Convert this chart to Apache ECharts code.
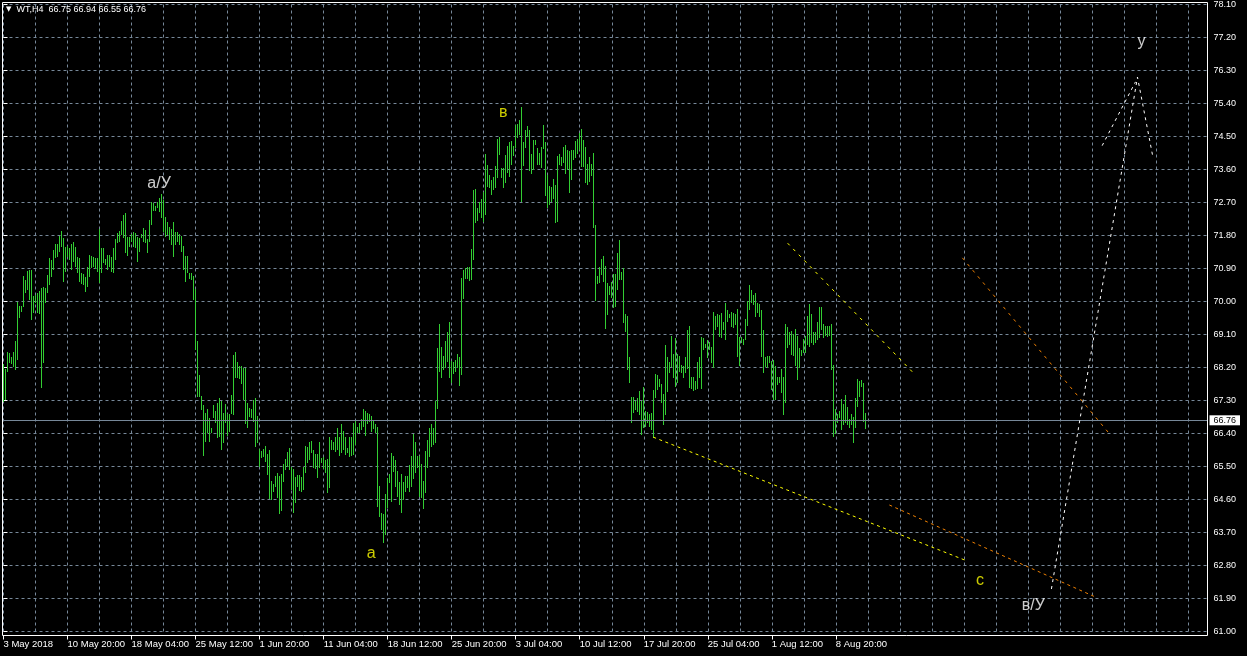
<!DOCTYPE html>
<html><head><meta charset="utf-8">
<script src="https://cdn.jsdelivr.net/npm/echarts@6/dist/echarts.min.js"></script>
<style>html,body{margin:0;padding:0;background:#000;}#c{width:1247px;height:656px;}</style>
</head><body><div id="c"></div>
<script>
const symbolName = 'WT,H4';
const lastBar = {open: 66.75, high: 66.94, low: 66.55, close: 66.76};
const timeLabels = ['3 May 2018','10 May 20:00','18 May 04:00','25 May 12:00','1 Jun 20:00','11 Jun 04:00','18 Jun 12:00','25 Jun 20:00','3 Jul 04:00','10 Jul 12:00','17 Jul 20:00','25 Jul 04:00','1 Aug 12:00','8 Aug 20:00'];
const barsPerLabel = 32;
const priceMin = 61.0, priceMax = 78.1, priceStep = 0.9;

const highs = [
68.27,68.14,68.60,68.57,68.46,68.60,68.90,69.97,69.86,69.86,
70.67,70.57,70.81,70.84,70.84,70.13,70.16,70.21,70.27,70.35,
70.38,70.35,70.70,71.17,71.11,71.38,71.55,71.55,71.76,71.90,
71.71,71.46,71.49,71.44,71.55,71.60,71.46,71.19,71.17,70.76,
70.73,70.65,70.92,71.25,71.22,71.19,71.17,71.17,71.96,71.44,
71.44,71.14,71.25,71.25,71.19,71.44,71.68,71.85,71.90,72.17,
72.34,72.39,71.74,71.74,71.82,71.87,71.85,71.74,71.71,71.82,
71.98,71.93,71.68,72.20,72.69,72.66,72.58,72.69,72.80,72.91,
72.75,72.28,72.15,72.01,71.96,72.15,71.87,71.87,71.82,71.76,
71.49,71.22,71.22,70.76,70.76,70.67,70.32,68.90,67.97,67.40,
67.16,66.94,67.05,66.80,66.53,67.16,66.99,67.21,67.35,67.27,
66.94,67.18,66.91,66.91,67.43,68.52,68.60,68.33,68.22,68.22,
68.17,68.17,67.21,67.07,67.05,67.29,67.35,66.86,65.96,65.90,
65.96,66.04,65.82,65.93,65.08,65.00,65.22,65.30,65.22,65.28,
65.55,65.68,65.87,65.98,65.47,65.41,65.19,65.25,65.25,65.19,
65.47,66.04,66.01,66.15,66.17,65.93,65.82,65.82,66.15,65.71,
65.74,65.66,65.68,66.28,66.20,66.15,66.28,66.53,66.28,66.64,
66.45,66.28,65.98,66.28,66.28,66.67,66.75,66.56,66.67,66.78,
67.05,66.99,66.94,66.91,66.86,66.75,66.64,66.56,64.95,64.21,
64.18,64.73,65.17,65.28,65.85,65.76,65.66,65.36,65.06,65.28,
65.06,65.22,65.22,65.52,65.76,66.37,66.15,65.76,65.76,65.55,
65.08,65.90,66.20,66.53,66.64,66.53,67.27,68.71,69.37,68.74,
68.49,68.90,69.15,69.42,68.36,68.33,68.38,68.55,68.46,70.62,
70.84,70.89,70.92,70.92,71.41,73.02,73.05,72.53,72.69,72.77,
72.97,74.00,73.70,73.43,73.29,73.37,73.67,74.41,74.46,73.62,
73.62,73.97,74.22,74.33,74.36,74.22,74.79,74.82,74.93,75.28,
74.33,74.66,74.76,74.66,74.00,74.38,74.38,74.16,74.03,74.19,
74.79,74.33,73.43,73.13,73.10,73.32,73.16,73.95,74.00,73.92,
74.19,74.25,74.11,74.08,74.11,74.11,74.36,74.41,74.57,74.68,
74.38,74.19,73.73,73.92,73.73,74.03,72.07,70.67,70.92,71.14,
71.22,70.95,70.48,70.40,70.51,70.73,70.73,71.30,71.66,70.78,
70.89,69.64,69.58,68.46,67.37,67.37,67.27,67.35,67.54,67.27,
67.65,66.99,66.97,66.91,66.94,67.57,68.00,67.97,67.86,67.73,
67.46,68.79,68.46,68.33,69.04,68.55,68.98,68.55,68.49,68.25,
68.22,68.46,69.20,69.31,67.94,67.92,67.81,68.33,68.46,69.01,
68.98,68.82,68.93,68.87,68.74,69.69,69.58,69.64,69.61,69.66,
69.42,69.94,69.75,69.64,69.69,69.66,69.64,69.77,69.01,69.01,
68.96,69.50,69.99,70.43,70.29,70.16,70.21,69.94,69.91,69.75,
69.20,68.46,68.49,68.49,68.36,68.38,68.22,67.94,67.94,68.14,
67.94,69.37,69.28,69.15,69.17,69.09,69.23,69.04,68.71,68.66,
68.96,69.04,69.58,69.91,69.64,69.15,69.15,69.42,69.83,69.83,
69.37,69.31,69.31,69.31,69.37,68.25,67.05,66.91,66.99,67.32,
67.18,67.43,67.10,66.78,66.91,66.83,67.35,67.86,67.81,67.84,
67.76,66.94
];
const lows = [
67.27,67.32,68.08,68.33,68.30,68.22,68.14,68.41,69.56,69.72,
69.86,70.24,70.32,70.05,69.50,69.69,69.97,69.69,69.67,67.65,
68.33,69.97,70.24,70.46,70.67,70.86,71.19,71.22,71.36,71.49,
70.54,70.81,71.22,71.14,70.86,71.08,70.95,70.78,70.54,70.48,
70.46,70.27,70.40,70.67,70.92,70.95,70.89,70.81,70.51,70.78,
71.06,71.00,70.86,70.95,70.81,70.78,71.14,71.60,71.63,71.82,
71.74,71.33,71.25,71.49,71.63,71.49,71.46,71.08,71.36,71.74,
71.63,71.60,71.33,71.63,72.09,72.47,72.47,72.56,72.45,72.28,
71.90,71.76,71.82,71.68,71.55,71.22,71.55,71.63,71.55,71.36,
70.86,70.54,70.78,70.62,70.59,70.05,68.70,67.40,67.40,67.05,
65.79,66.17,66.42,66.17,66.42,66.83,66.69,66.28,66.31,65.96,
66.15,66.69,66.34,66.45,66.94,66.91,67.92,67.94,67.89,67.76,
67.32,66.67,66.56,66.86,66.83,66.72,66.04,66.15,65.49,65.74,
65.76,65.63,65.28,64.62,64.59,64.81,64.95,64.65,64.21,64.29,
65.08,65.41,65.49,65.41,64.87,64.24,64.51,64.95,64.84,64.81,
64.87,65.33,65.60,65.68,65.87,65.47,65.44,65.19,65.47,65.60,
65.44,65.33,64.78,64.92,65.96,65.96,65.90,65.96,65.79,65.87,
65.96,65.82,65.87,65.76,65.79,65.82,66.09,66.42,66.42,66.50,
66.58,66.34,66.67,66.72,66.45,66.53,66.42,64.40,64.13,63.78,
63.42,63.64,64.37,65.06,64.54,65.36,64.95,64.68,64.46,64.24,
64.59,64.81,64.92,64.81,64.95,65.17,65.33,65.47,64.68,64.65,
64.35,64.78,65.47,65.76,66.04,66.09,66.15,67.07,68.08,67.94,
68.14,68.19,68.36,67.94,67.78,68.03,68.08,68.19,67.70,68.00,
70.07,70.62,70.62,70.57,70.59,71.14,72.15,72.20,72.42,72.28,
72.17,72.36,73.13,73.10,72.91,73.05,73.10,73.37,74.00,73.37,
73.10,73.24,73.51,73.40,73.73,73.97,74.19,74.46,74.55,72.72,
73.70,74.19,74.49,73.56,73.48,73.59,74.27,73.73,73.73,73.65,
74.16,72.88,72.56,72.64,72.72,72.80,72.15,72.17,73.73,73.70,
73.78,73.48,73.59,72.97,73.32,73.86,73.92,74.05,74.14,73.67,
73.67,73.24,73.18,73.26,73.43,72.01,70.02,70.48,70.51,70.73,
70.54,69.26,69.64,70.18,70.10,69.83,69.86,70.32,70.59,70.59,
69.42,69.17,68.14,67.78,66.69,66.97,67.05,66.99,66.91,66.37,
66.56,66.58,66.69,66.58,66.50,66.28,67.37,67.59,67.67,67.24,
66.64,66.91,67.54,68.06,68.22,67.94,67.67,67.78,68.08,68.06,
67.94,68.06,68.17,67.65,67.62,67.57,67.59,67.62,67.94,67.62,
68.68,68.74,68.46,68.68,68.33,68.19,69.23,69.31,69.04,69.01,
69.23,68.96,69.45,69.56,69.31,69.28,69.37,68.49,68.25,68.87,
68.82,68.96,69.34,69.77,69.97,69.91,69.58,69.69,69.58,68.49,
68.06,68.22,68.19,68.33,67.59,67.32,67.32,67.73,67.78,67.51,
66.91,67.24,68.74,68.82,68.55,68.52,68.25,67.86,68.19,68.52,
68.60,68.60,68.82,68.77,68.87,68.82,68.87,68.96,69.01,69.23,
69.01,69.07,69.04,69.07,68.14,66.31,66.39,66.69,66.83,66.50,
66.64,66.69,66.64,66.56,66.64,66.15,66.56,67.13,67.40,67.67,
66.72,66.55
];

// hand-drawn analysis lines: [bar index, price]
const yellowUpper = [[391.9, 71.59], [454.25, 68.08]];
const yellowLower = [[324.75, 66.30], [481.75, 62.92]];
const orangeUpper = [[479.25, 71.19], [553.25, 66.36]];
const orangeLower = [[442.75, 64.45], [545.75, 61.94]];
const whitePath = [[523.75, 62.16], [566.75, 76.12], [574.25, 74.00]];
const whiteShort = [[549.1, 74.25], [565.75, 75.99]];

const waveNames = ['a/У', 'в', 'a', 'с', 'в/У', 'у'];
const wavePos = [[77.75, 73.22], [249.75, 75.16], [183.75, 63.13], [488, 62.40], [514.75, 61.70], [568.75, 77.10]];
const waveColors = ['#ffffff', '#ffff00', '#ffff00', '#ffff00', '#ffffff', '#ffffff'];

const FONT = '"Liberation Sans", Arial, sans-serif';
const xMax = 601.75;
const chart = echarts.init(document.getElementById('c'), null, {renderer: 'canvas'});

const barData = highs.map((h, i) => [i, h, lows[i]]);
const labelTicks = timeLabels.map((_, k) => k * barsPerLabel);

function trend(data, color, dash, extra) {
  return Object.assign({
    type: 'line', data: data, symbol: 'none', silent: true, animation: false, z: 5,
    lineStyle: {color: color, width: 1, type: dash}
  }, extra || {});
}

chart.setOption({
  backgroundColor: '#000000',
  animation: false,
  title: {
    left: 6, top: 5, padding: 0,
    text: '{t|▼}  ' + symbolName + '  ' + [lastBar.open, lastBar.high, lastBar.low, lastBar.close].map(v => v.toFixed(2)).join(' '),
    textStyle: {color: '#ffffff', fontSize: 9, fontWeight: 'normal', fontFamily: FONT,
      rich: {t: {fontSize: 7, color: '#ffffff', fontFamily: 'DejaVu Sans'}}}
  },
  grid: {left: 3.5, right: 39.5, top: 4.5, bottom: 24.5, containLabel: false},
  xAxis: [{
    type: 'value', min: 0, max: xMax, interval: 16,
    axisLine: {show: false}, axisTick: {show: false}, axisLabel: {show: false},
    splitLine: {show: true, lineStyle: {color: '#778899', width: 1, type: [3, 3]}}
  }, {
    type: 'value', min: 0, max: xMax, position: 'bottom', offset: 4,
    axisLine: {show: false},
    axisTick: {show: true, length: 4, customValues: labelTicks, lineStyle: {color: '#ffffff'}},
    axisLabel: {show: true, customValues: labelTicks, align: 'left', margin: 4, color: '#ffffff',
      fontSize: 9.5, fontFamily: FONT,
      formatter: v => timeLabels[Math.round(v / barsPerLabel)] || ''},
    splitLine: {show: false}
  }],
  yAxis: {
    type: 'value', position: 'right', min: priceMin, max: priceMax, interval: priceStep,
    axisLine: {show: false},
    axisTick: {show: true, length: 4, lineStyle: {color: '#ffffff'}},
    axisLabel: {color: '#ffffff', fontSize: 9, fontFamily: FONT, margin: 6, formatter: v => v.toFixed(2)},
    splitLine: {show: true, lineStyle: {color: '#778899', width: 1, type: [3, 3]}}
  },
  graphic: [{
    type: 'rect', silent: true, z: 100,
    shape: {x: 2.5, y: 2.5, width: 1205, height: 633},
    style: {fill: 'transparent', stroke: '#ffffff', lineWidth: 1}
  }],
  series: [
    {
      type: 'custom', data: barData, encode: {x: 0, y: [1, 2]}, silent: true, z: 3,
      renderItem: function (params, api) {
        const i = api.value(0);
        const top = api.coord([i, api.value(1)]);
        const bot = api.coord([i, api.value(2)]);
        const px = Math.round(top[0] - 0.5) + 0.5;
        return {type: 'line', shape: {x1: px, y1: Math.floor(top[1]), x2: px, y2: Math.floor(bot[1]) + 1},
          style: {stroke: '#32cd32', lineWidth: 1}};
      }
    },
    trend(yellowLower, '#ffff00', [3, 3.5], {
      markLine: {
        silent: true, symbol: ['none', 'none'], animation: false,
        data: [{yAxis: lastBar.close}],
        lineStyle: {color: '#778899', type: 'solid', width: 1},
        label: {show: true, position: 'end', distance: 2, formatter: lastBar.close.toFixed(2),
          backgroundColor: '#ffffff', color: '#000000', padding: [1, 4, 0, 4], fontSize: 9, fontFamily: FONT}
      }
    }),
    trend(yellowUpper, '#ffff00', [3, 5]),
    trend(orangeUpper, '#f08000', [3, 5]),
    trend(orangeLower, '#f08000', [3, 3.5]),
    trend(whitePath, '#ffffff', [3, 4]),
    trend(whiteShort, '#ffffff', [3, 4]),
    {
      type: 'scatter', silent: true, z: 10, symbolSize: 1, itemStyle: {color: 'rgba(0,0,0,0)'},
      data: waveNames.map((n, k) => ({name: n, value: wavePos[k], label: {color: waveColors[k]}})),
      label: {show: true, position: 'inside', formatter: p => p.name, fontSize: 16, fontFamily: FONT}
    }
  ]
});
</script></body></html>
